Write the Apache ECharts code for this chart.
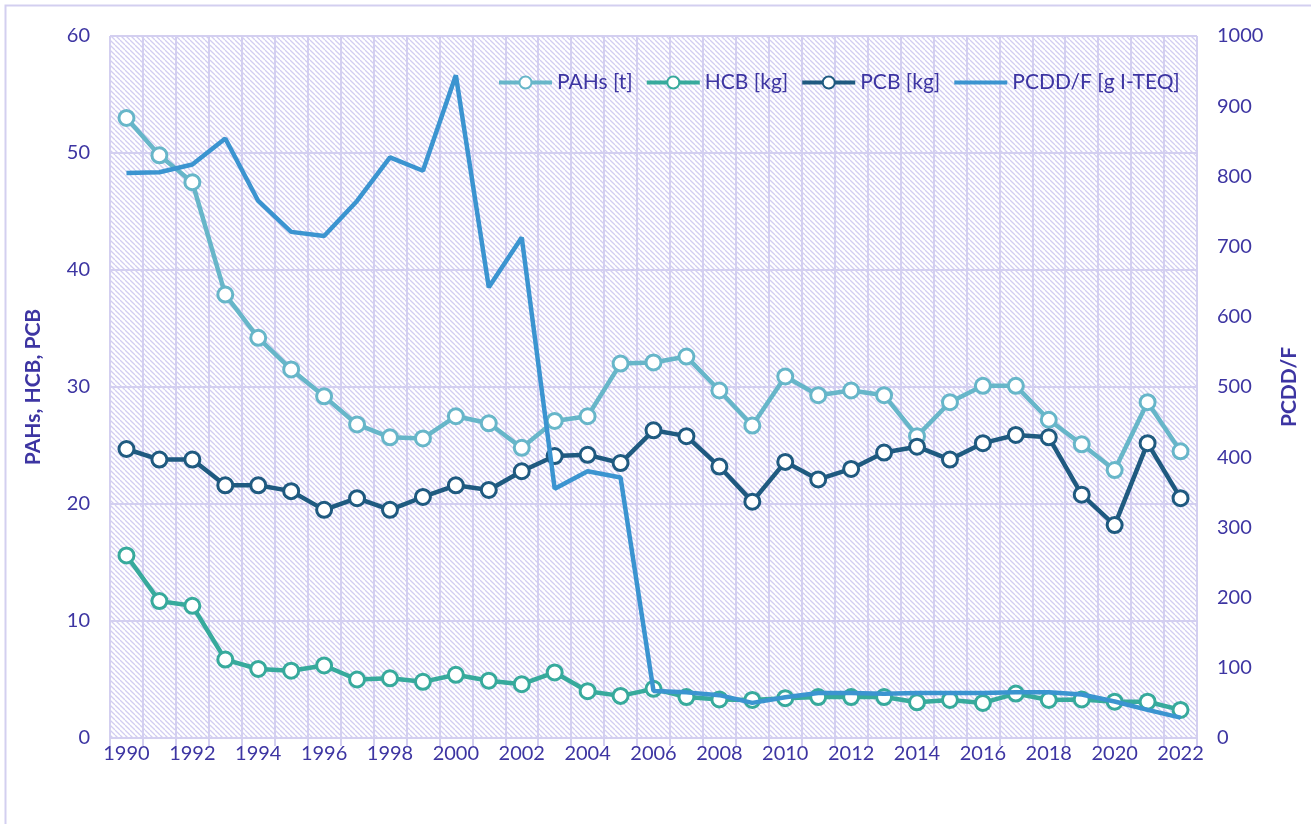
<!DOCTYPE html>
<html>
<head>
<meta charset="utf-8">
<script src="https://cdn.jsdelivr.net/npm/echarts@6/dist/echarts.min.js"></script>
<style>
  html, body { margin: 0; padding: 0; background: #fff; }
  #chart { width: 1311px; height: 824px; }
</style>
</head>
<body>
<div id="chart"></div>
<script>
const years = [];
for (let y = 1990; y <= 2022; y++) years.push(String(y));

const pahs = [53.0, 49.8, 47.5, 37.9, 34.2, 31.5, 29.2, 26.8, 25.7, 25.6, 27.5, 26.9, 24.8, 27.1, 27.5,
  32.0, 32.1, 32.6, 29.7, 26.7, 30.9, 29.3, 29.7, 29.3, 25.8, 28.7, 30.1, 30.1, 27.2, 25.1, 22.9, 28.7, 24.5];
const hcb = [15.6, 11.7, 11.3, 6.7, 5.9, 5.75, 6.2, 5.0, 5.1, 4.8, 5.4, 4.9, 4.6, 5.6, 4.0,
  3.6, 4.2, 3.5, 3.3, 3.25, 3.4, 3.5, 3.5, 3.5, 3.05, 3.25, 3.0, 3.8, 3.25, 3.3, 3.1, 3.1, 2.4];
const pcb = [24.7, 23.8, 23.8, 21.6, 21.6, 21.1, 19.5, 20.5, 19.5, 20.6, 21.6, 21.2, 22.8, 24.1, 24.2,
  23.5, 26.3, 25.8, 23.2, 20.2, 23.6, 22.1, 23.0, 24.4, 24.9, 23.8, 25.2, 25.9, 25.7, 20.8, 18.2, 25.2, 20.5];
const pcddf = [805, 806, 817, 854, 765, 721, 715, 765, 827, 808, 944, 642, 713, 355, 380,
  371, 67, 65, 61, 50, 58, 64, 64, 63, 64, 64, 64, 65, 65, 62, 52, 40, 29];

const txt = '#3d35a2';
const gridCol = '#d3cff0';
const font = 'Lato';

// diagonal hatch used as plot background
function hatch() {
  const s = 5;
  const c = document.createElement('canvas');
  c.width = s; c.height = s;
  const g = c.getContext('2d');
  g.fillStyle = '#ffffff';
  g.fillRect(0, 0, s, s);
  g.strokeStyle = '#d2cdf1';
  g.lineWidth = 1.3;
  for (const o of [-s, 0, s]) {
    g.beginPath();
    g.moveTo(o, 0);
    g.lineTo(o + s, s);
    g.stroke();
  }
  return c;
}

const chart = echarts.init(document.getElementById('chart'));

const dotSeries = (name, data, color) => ({
  name, type: 'line', data, yAxisIndex: 0,
  symbol: 'circle', symbolSize: 15,
  lineStyle: { color, width: 4.5 },
  itemStyle: { color: '#fff', borderColor: color, borderWidth: 3 },
  z: 3,
});

chart.setOption({
  animation: false,
  textStyle: { fontFamily: font },
  graphic: [{
    type: 'rect', shape: { x: 5.5, y: 5.5, width: 1400, height: 900 },
    style: { fill: null, stroke: gridCol, lineWidth: 2 }, silent: true, z: -10
  }],
  grid: {
    left: 110, right: 114, top: 36, bottom: 86,
    show: true, borderWidth: 0,
    backgroundColor: { image: hatch(), repeat: 'repeat' }
  },
  legend: {
    top: 67, left: 492, itemGap: 12, itemWidth: 53, itemHeight: 15,
    lineStyle: { width: 4 },
    textStyle: { color: txt, fontSize: 21, fontFamily: font },
    data: ['PAHs [t]', 'HCB [kg]', 'PCB [kg]',
      { name: 'PCDD/F [g I-TEQ]', itemStyle: { opacity: 0 } }]
  },
  xAxis: {
    type: 'category', data: years, boundaryGap: true,
    axisLine: { lineStyle: { color: gridCol, width: 2 } },
    axisTick: { show: true, interval: 0, length: 8, lineStyle: { color: gridCol, width: 2 } },
    axisLabel: { interval: 1, color: txt, fontSize: 20, margin: 6 },
    splitLine: { show: true, interval: 0, lineStyle: { color: gridCol, width: 2 } }
  },
  yAxis: [{
    type: 'value', min: 0, max: 60, interval: 10,
    name: 'PAHs, HCB, PCB', nameLocation: 'middle', nameGap: 66, nameRotate: 90,
    nameTextStyle: { color: txt, fontSize: 21, fontWeight: 'bold', fontFamily: font },
    axisLine: { show: false }, axisTick: { show: false },
    axisLabel: { color: txt, fontSize: 20, margin: 20 },
    splitLine: { show: true, lineStyle: { color: gridCol, width: 2 } }
  }, {
    type: 'value', min: 0, max: 1000, interval: 100,
    name: 'PCDD/F', nameLocation: 'middle', nameGap: 82, nameRotate: 90,
    nameTextStyle: { color: txt, fontSize: 21, fontWeight: 'bold', fontFamily: font },
    axisLine: { show: false }, axisTick: { show: false },
    axisLabel: { color: txt, fontSize: 20, margin: 20, formatter: v => String(v) },
    splitLine: { show: false }
  }],
  series: [
    dotSeries('PAHs [t]', pahs, '#67b6c9'),
    dotSeries('HCB [kg]', hcb, '#37aa9c'),
    dotSeries('PCB [kg]', pcb, '#1f5a80'),
    {
      name: 'PCDD/F [g I-TEQ]', type: 'line', data: pcddf, yAxisIndex: 1,
      symbol: 'none', lineStyle: { color: '#3b94d0', width: 4.5 },
      itemStyle: { color: '#3b94d0' }, z: 4
    }
  ]
});
</script>
</body>
</html>
